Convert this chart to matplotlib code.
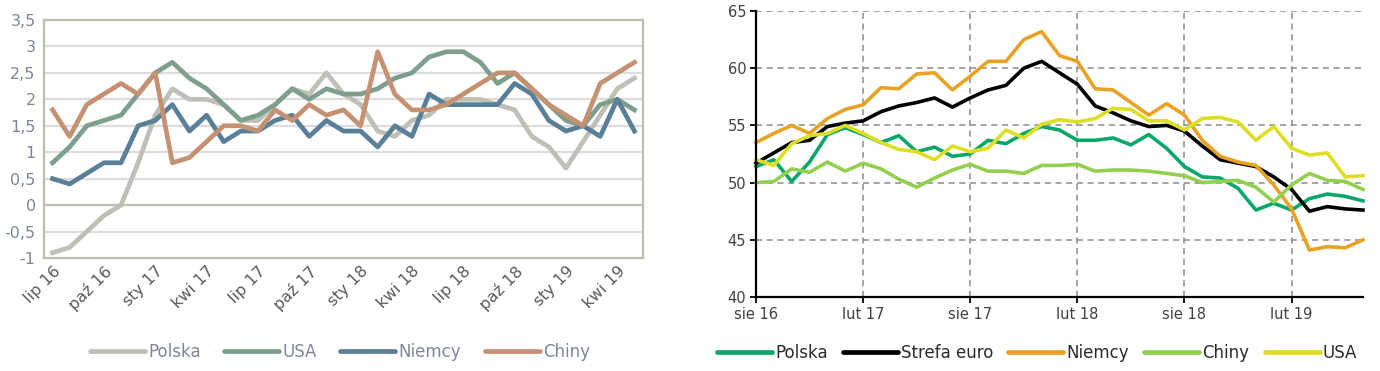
import numpy as np
import matplotlib.pyplot as plt
from matplotlib import font_manager

names = {f.name for f in font_manager.fontManager.ttflist}
narrow = 'Liberation Sans Narrow' if 'Liberation Sans Narrow' in names else 'DejaVu Sans'
plt.rcParams['font.family'] = [narrow, 'DejaVu Sans']

# lewy wykres: inflacja CPI r/r, lip 16 - maj 19
left_ticks = ['lip 16', 'paź 16', 'sty 17', 'kwi 17', 'lip 17', 'paź 17',
              'sty 18', 'kwi 18', 'lip 18', 'paź 18', 'sty 19', 'kwi 19']
polska = [-0.9, -0.8, -0.5, -0.2, 0.0, 0.8, 1.7, 2.2, 2.0, 2.0, 1.9, 1.6,
          1.6, 1.9, 2.2, 2.1, 2.5, 2.1, 1.9, 1.4, 1.3, 1.6, 1.7, 2.0,
          2.0, 2.0, 1.9, 1.8, 1.3, 1.1, 0.7, 1.2, 1.7, 2.2, 2.4]
usa = [0.8, 1.1, 1.5, 1.6, 1.7, 2.1, 2.5, 2.7, 2.4, 2.2, 1.9, 1.6,
       1.7, 1.9, 2.2, 2.0, 2.2, 2.1, 2.1, 2.2, 2.4, 2.5, 2.8, 2.9,
       2.9, 2.7, 2.3, 2.5, 2.2, 1.9, 1.6, 1.5, 1.9, 2.0, 1.8]
niemcy_cpi = [0.5, 0.4, 0.6, 0.8, 0.8, 1.5, 1.6, 1.9, 1.4, 1.7, 1.2, 1.4,
              1.4, 1.6, 1.7, 1.3, 1.6, 1.4, 1.4, 1.1, 1.5, 1.3, 2.1, 1.9,
              1.9, 1.9, 1.9, 2.3, 2.1, 1.6, 1.4, 1.5, 1.3, 2.0, 1.4]
chiny_cpi = [1.8, 1.3, 1.9, 2.1, 2.3, 2.1, 2.5, 0.8, 0.9, 1.2, 1.5, 1.5,
             1.4, 1.8, 1.6, 1.9, 1.7, 1.8, 1.5, 2.9, 2.1, 1.8, 1.8, 1.9,
             2.1, 2.3, 2.5, 2.5, 2.2, 1.9, 1.7, 1.5, 2.3, 2.5, 2.7]

# prawy wykres: PMI, sie 16 - cze 19
right_ticks = ['sie 16', 'lut 17', 'sie 17', 'lut 18', 'sie 18', 'lut 19']
pmi_polska = [51.4, 52.0, 50.1, 51.8, 54.2, 54.8, 54.2, 53.5, 54.1, 52.7, 53.1, 52.3,
              52.5, 53.7, 53.4, 54.3, 54.9, 54.6, 53.7, 53.7, 53.9, 53.3, 54.2, 53.0,
              51.4, 50.5, 50.4, 49.5, 47.6, 48.2, 47.6, 48.6, 49.0, 48.8, 48.4]
pmi_euro = [51.7, 52.6, 53.5, 53.7, 54.9, 55.2, 55.4, 56.2, 56.7, 57.0, 57.4, 56.6,
            57.4, 58.1, 58.5, 60.0, 60.6, 59.6, 58.6, 56.7, 56.1, 55.4, 54.9, 55.0,
            54.5, 53.2, 52.0, 51.7, 51.4, 50.5, 49.4, 47.5, 47.9, 47.7, 47.6]
pmi_niemcy = [53.5, 54.3, 55.0, 54.3, 55.6, 56.4, 56.8, 58.3, 58.2, 59.5, 59.6, 58.1,
              59.3, 60.6, 60.6, 62.5, 63.2, 61.1, 60.6, 58.2, 58.1, 57.0, 55.9, 56.9,
              55.9, 53.7, 52.3, 51.8, 51.5, 49.8, 47.7, 44.1, 44.4, 44.3, 45.0]
pmi_chiny = [50.0, 50.1, 51.2, 50.9, 51.8, 51.0, 51.7, 51.2, 50.3, 49.6, 50.4, 51.1,
             51.6, 51.0, 51.0, 50.8, 51.5, 51.5, 51.6, 51.0, 51.1, 51.1, 51.0, 50.8,
             50.6, 50.0, 50.1, 50.2, 49.6, 48.3, 49.8, 50.8, 50.2, 50.1, 49.4]
pmi_usa = [52.0, 51.5, 53.4, 54.1, 54.3, 55.0, 54.3, 53.5, 52.9, 52.7, 52.0, 53.2,
           52.7, 53.0, 54.6, 53.9, 55.1, 55.5, 55.3, 55.6, 56.5, 56.4, 55.4, 55.4,
           54.6, 55.6, 55.7, 55.3, 53.7, 54.9, 53.0, 52.4, 52.6, 50.5, 50.6]

fig = plt.figure(figsize=(13.8, 3.71), dpi=100)

# ---- lewy
ax1 = fig.add_axes([44/1380, 1-258/371, 599/1380, 238/371])
x1 = np.arange(len(polska))
frame = '#bdbdb0'
ax1.set_xlim(-0.5, len(polska)-0.5)
ax1.set_ylim(-1, 3.5)
yt = np.arange(-1, 3.51, 0.5)
ax1.set_yticks(yt)
ax1.set_yticklabels([('%g' % v).replace('.', ',') for v in yt], color='#7d8796', fontsize=11.5)
for v in yt[1:-1]:
    if abs(v) > 1e-9:
        ax1.axhline(v, color='#dcdcdc', lw=1.6, zorder=1)
ax1.axhline(0, color=frame, lw=1.6, zorder=1)
for s in ax1.spines.values():
    s.set_color(frame)
    s.set_linewidth(1.6)
ax1.tick_params(length=0, pad=6)
ax1.set_xticks(np.arange(0, len(polska), 3))
ax1.set_xticklabels(left_ticks, rotation=45, ha='right', rotation_mode='anchor',
                    color='#5a5a5a', fontsize=11.5)
ax1.tick_params(axis='x', pad=4)
lw = 3.4
ax1.plot(x1, polska, color='#bfc0b5', lw=lw, label='Polska', zorder=3)
ax1.plot(x1, usa, color='#7f9f8e', lw=lw, label='USA', zorder=3)
ax1.plot(x1, niemcy_cpi, color='#5a7f98', lw=lw, label='Niemcy', zorder=3)
ax1.plot(x1, chiny_cpi, color='#c49272', lw=lw, label='Chiny', zorder=3)
leg1 = fig.legend(*ax1.get_legend_handles_labels(), loc='center', ncol=4,
                  bbox_to_anchor=(340/1380, 1-352/371), frameon=False,
                  fontsize=12, handlelength=3.3, handletextpad=0.2, columnspacing=1.4)
for t in leg1.get_texts():
    t.set_color('#7d8796')
for h in leg1.get_lines():
    h.set_solid_capstyle('round')

# ---- prawy
ax2 = fig.add_axes([756/1380, 1-297/371, 607/1380, 286/371])
x2 = np.arange(len(pmi_polska))
ax2.set_xlim(0, len(pmi_polska)-1)
ax2.set_ylim(40, 65)
ax2.set_yticks(np.arange(40, 66, 5))
ax2.set_xticks(np.arange(0, len(pmi_polska), 6))
ax2.set_xticklabels(right_ticks)
ax2.grid(True, color='#8c8c8c', ls=(0, (4, 3)), lw=1.1)
ax2.set_axisbelow(True)
for s in ['top', 'right']:
    ax2.spines[s].set_visible(False)
for s in ['left', 'bottom']:
    ax2.spines[s].set_color('black')
    ax2.spines[s].set_linewidth(1.6)
ax2.tick_params(axis='both', colors='black', length=4, width=1.3, labelsize=12.5,
                labelcolor='#404040')
ax2.tick_params(axis='y', pad=3)
for t in ax2.get_xticklabels() + ax2.get_yticklabels():
    t.set_family(['DejaVu Sans'])
    t.set_fontsize(10.5)
lw2 = 2.6
ax2.plot(x2, pmi_polska, color='#0aa76a', lw=lw2, label='Polska', clip_on=False)
ax2.plot(x2, pmi_euro, color='#000000', lw=lw2, label='Strefa euro', clip_on=False)
ax2.plot(x2, pmi_niemcy, color='#e8a224', lw=lw2, label='Niemcy', clip_on=False)
ax2.plot(x2, pmi_chiny, color='#93d050', lw=lw2, label='Chiny', clip_on=False)
ax2.plot(x2, pmi_usa, color='#dede22', lw=lw2, label='USA', clip_on=False)
leg2 = fig.legend(*ax2.get_legend_handles_labels(), loc='center', ncol=5,
                  bbox_to_anchor=(1037/1380, 1-353/371), frameon=False,
                  fontsize=12, handlelength=3.3, handletextpad=0.2, columnspacing=0.9)
for t in leg2.get_texts():
    t.set_color('#2a2a2a')
for h in leg2.get_lines():
    h.set_linewidth(3.4)
    h.set_solid_capstyle('round')

fig.savefig('out.png', dpi=100)
